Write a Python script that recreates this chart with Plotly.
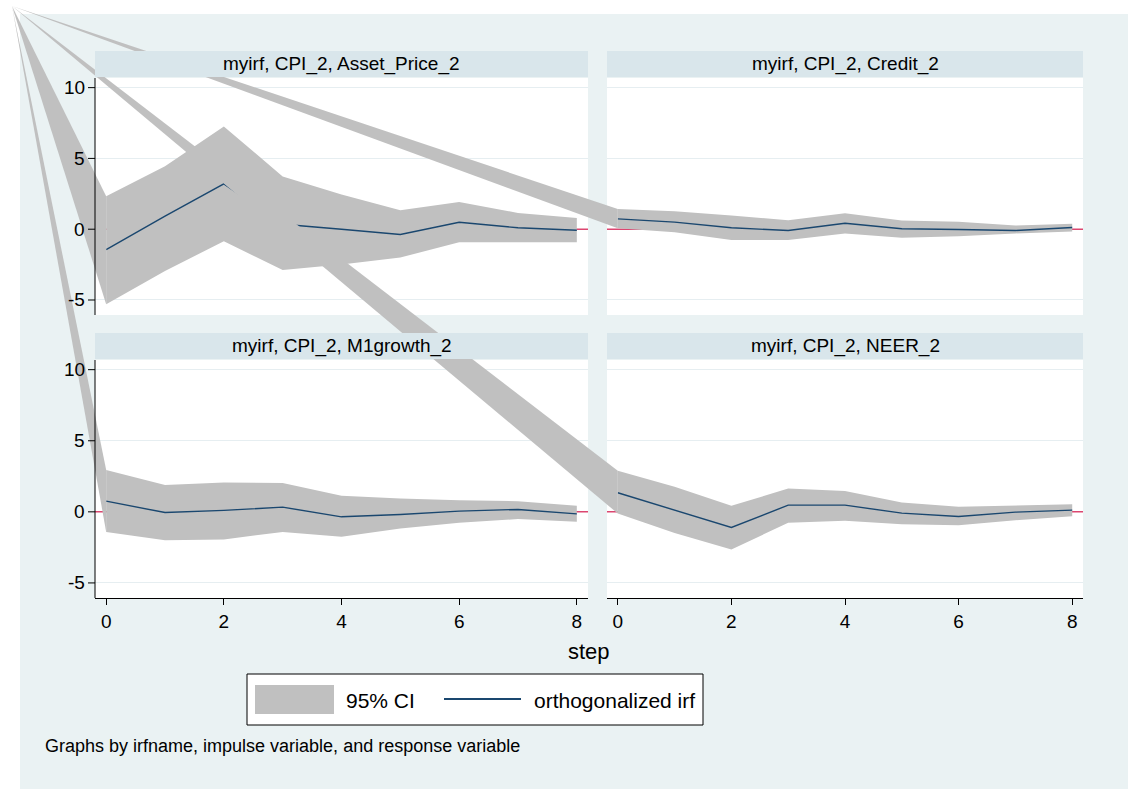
import plotly.graph_objects as go

# ---- impulse-response data (impulse CPI_2) ----
steps = [0, 1, 2, 3, 4, 5, 6, 7, 8]

panel_titles = [
    "myirf, CPI_2, Asset_Price_2",
    "myirf, CPI_2, Credit_2",
    "myirf, CPI_2, M1growth_2",
    "myirf, CPI_2, NEER_2",
]

asset_irf = [-1.45, 0.92, 3.2, 0.35, 0.0, -0.37, 0.49, 0.1, -0.07]
asset_hi = [2.32, 4.44, 7.25, 3.73, 2.45, 1.34, 1.93, 1.15, 0.8]
asset_lo = [-5.3, -2.95, -0.85, -2.89, -2.5, -2.0, -0.92, -0.92, -0.92]

credit_irf = [0.73, 0.5, 0.1, -0.09, 0.42, 0.03, -0.02, -0.09, 0.12]
credit_hi = [1.43, 1.27, 0.97, 0.63, 1.13, 0.61, 0.52, 0.26, 0.38]
credit_lo = [0.07, -0.21, -0.77, -0.77, -0.3, -0.6, -0.49, -0.3, -0.16]

m1_irf = [0.75, -0.05, 0.1, 0.33, -0.35, -0.19, 0.05, 0.17, -0.14]
m1_hi = [2.94, 1.88, 2.07, 2.02, 1.13, 0.94, 0.82, 0.75, 0.42]
m1_lo = [-1.41, -1.99, -1.94, -1.41, -1.76, -1.17, -0.77, -0.51, -0.7]

neer_irf = [1.34, 0.12, -1.1, 0.47, 0.47, -0.09, -0.33, -0.02, 0.12]
neer_hi = [2.89, 1.76, 0.42, 1.64, 1.46, 0.66, 0.35, 0.47, 0.54]
neer_lo = [-0.12, -1.48, -2.65, -0.77, -0.63, -0.87, -0.94, -0.59, -0.31]

irfs = [asset_irf, credit_irf, m1_irf, neer_irf]
his = [asset_hi, credit_hi, m1_hi, neer_hi]
los = [asset_lo, credit_lo, m1_lo, neer_lo]

y_ticks = [-5, 0, 5, 10]
y_ticktext = ["-5", "0", "5", "10"]
x_ticks = [0, 2, 4, 6, 8]

# ---- styling ----
W, H = 1128, 789
FONT = "Liberation Sans, Arial, sans-serif"
BG = "#EAF2F3"
STRIP = "#D9E6EB"
GRID = "#E6EEF1"
CI = "#C0C0C0"
NAVY = "#1A476F"
ZERO = "#DC4670"

XR = [-0.19, 8.19]
YR = [-6.06, 10.68]

# plot boxes in pixels: left, right, top, bottom
boxes = [(95, 588, 78, 315), (607, 1083, 78, 315),
         (95, 588, 360, 598), (607, 1083, 360, 598)]
strips = [(51, 77), (51, 77), (333, 359), (333, 359)]
TICKLEN = 7


def fx(px):
    return px / W


def fy(py):
    return 1 - py / H


def to_px(i, x, y):
    l, r, t, b = boxes[i]
    px = l + (x - XR[0]) / (XR[1] - XR[0]) * (r - l)
    py = b - (y - YR[0]) / (YR[1] - YR[0]) * (b - t)
    return px, py


fig = go.Figure()
shapes = []
annotations = []

# overall graph region
shapes.append(dict(type="rect", xref="paper", yref="paper", x0=fx(20), x1=1,
                   y0=0, y1=fy(14), fillcolor=BG, line=dict(width=0), layer="below"))

for i in range(4):
    sfx = "" if i == 0 else str(i + 1)
    xa, ya = "x" + sfx, "y" + sfx
    l, r, t, b = boxes[i]

    # white plot region
    shapes.append(dict(type="rect", xref="paper", yref="paper",
                       x0=fx(l), x1=fx(r), y0=fy(b), y1=fy(t), fillcolor="white",
                       line=dict(width=0), layer="below"))
    # reference line at zero
    fig.add_trace(go.Scatter(
        x=XR, y=[0, 0], mode="lines", line=dict(color=ZERO, width=1.5),
        xaxis=xa, yaxis=ya, showlegend=False, hoverinfo="skip"))
    # CI band
    fig.add_trace(go.Scatter(
        x=steps + steps[::-1], y=his[i] + los[i][::-1],
        fill="toself", fillcolor=CI, mode="lines", line=dict(width=0),
        xaxis=xa, yaxis=ya, showlegend=False, hoverinfo="skip"))
    # orthogonalized irf
    fig.add_trace(go.Scatter(
        x=steps, y=irfs[i], mode="lines", line=dict(color=NAVY, width=1.4),
        xaxis=xa, yaxis=ya, showlegend=False))

    left_col = i in (0, 2)
    bottom_row = i in (2, 3)
    ax_x = dict(domain=[fx(l), fx(r)], range=XR, anchor=ya, showgrid=False,
                zeroline=False, fixedrange=True)
    if bottom_row:
        ax_x.update(tickvals=x_ticks, ticks="outside", ticklen=6, tickcolor="black",
                    showline=True, linecolor="black", linewidth=1,
                    tickfont=dict(family=FONT, size=19, color="black"))
    else:
        ax_x.update(showticklabels=False, ticks="", showline=False)
    ax_y = dict(domain=[fy(b), fy(t)], range=YR, anchor=xa, tickvals=y_ticks,
                showgrid=True, gridcolor=GRID, gridwidth=1, showticklabels=False,
                ticks="", showline=False, zeroline=False, fixedrange=True)
    fig.update_layout(**{"xaxis" + sfx: ax_x, "yaxis" + sfx: ax_y})

    # left axis (line, ticks, labels) drawn on the top layer
    if left_col:
        shapes.append(dict(type="line", xref="paper", yref="paper",
                           x0=fx(l), x1=fx(l), y0=fy(b), y1=fy(t),
                           line=dict(color="black", width=1), layer="above"))
        for v, txt in zip(y_ticks, y_ticktext):
            _, py = to_px(i, 0, v)
            shapes.append(dict(type="line", xref="paper", yref="paper",
                               x0=fx(l - TICKLEN), x1=fx(l), y0=fy(py), y1=fy(py),
                               line=dict(color="black", width=1), layer="above"))
            annotations.append(dict(text=txt, xref="paper", yref="paper",
                                    x=fx(l - TICKLEN - 1), y=fy(py), showarrow=False,
                                    xanchor="right", yanchor="middle",
                                    font=dict(family=FONT, size=19, color="black")))

    # title strip
    s0, s1 = strips[i]
    shapes.append(dict(type="rect", xref="paper", yref="paper", x0=fx(l), x1=fx(r),
                       y0=fy(s1), y1=fy(s0), fillcolor=STRIP, line=dict(width=0),
                       layer="above"))
    annotations.append(dict(text=panel_titles[i], xref="paper", yref="paper",
                            x=fx((l + r) / 2), y=fy((s0 + s1) / 2), showarrow=False,
                            xanchor="center", yanchor="middle",
                            font=dict(family=FONT, size=19, color="black")))

# polygons of each band also close through the page origin
APEX = (12, 6)
for i in range(4):
    p_hi = to_px(i, steps[0], his[i][0])
    p_lo = to_px(i, steps[0], los[i][0])
    fig.add_trace(go.Scatter(
        x=[APEX[0], p_hi[0], p_lo[0], APEX[0]],
        y=[APEX[1], p_hi[1], p_lo[1], APEX[1]],
        fill="toself", fillcolor=CI, mode="lines", line=dict(width=0),
        xaxis="x5", yaxis="y5", showlegend=False, hoverinfo="skip"))

fig.update_layout(
    xaxis5=dict(domain=[0, 1], range=[0, W], visible=False, fixedrange=True, anchor="y5"),
    yaxis5=dict(domain=[0, 1], range=[H, 0], visible=False, fixedrange=True, anchor="x5"),
)

# axis title
annotations.append(dict(text="step", xref="paper", yref="paper", x=fx(589), y=fy(651),
                        showarrow=False, xanchor="center", yanchor="middle",
                        font=dict(family=FONT, size=22, color="black")))

# legend
shapes.append(dict(type="rect", xref="paper", yref="paper", x0=fx(247), x1=fx(703),
                   y0=fy(725), y1=fy(674), fillcolor="white",
                   line=dict(color="black", width=1), layer="above"))
shapes.append(dict(type="rect", xref="paper", yref="paper", x0=fx(255), x1=fx(334),
                   y0=fy(714), y1=fy(685), fillcolor=CI, line=dict(width=0),
                   layer="above"))
shapes.append(dict(type="line", xref="paper", yref="paper", x0=fx(444), x1=fx(521),
                   y0=fy(699), y1=fy(699), line=dict(color=NAVY, width=2),
                   layer="above"))
annotations.append(dict(text="95% CI", xref="paper", yref="paper", x=fx(344), y=fy(700),
                        showarrow=False, xanchor="left", yanchor="middle",
                        font=dict(family=FONT, size=21, color="black")))
annotations.append(dict(text="orthogonalized irf", xref="paper", yref="paper",
                        x=fx(532), y=fy(700), showarrow=False, xanchor="left",
                        yanchor="middle", font=dict(family=FONT, size=21, color="black")))

# note
annotations.append(dict(text="Graphs by irfname, impulse variable, and response variable",
                        xref="paper", yref="paper", x=fx(43), y=fy(746), showarrow=False,
                        xanchor="left", yanchor="middle",
                        font=dict(family=FONT, size=18, color="black")))

fig.update_layout(
    width=W, height=H, margin=dict(l=0, r=0, t=0, b=0),
    paper_bgcolor="white", plot_bgcolor="rgba(0,0,0,0)",
    shapes=shapes, annotations=annotations, showlegend=False,
    font=dict(family=FONT, color="black"),
)

fig.write_html("out.html")
